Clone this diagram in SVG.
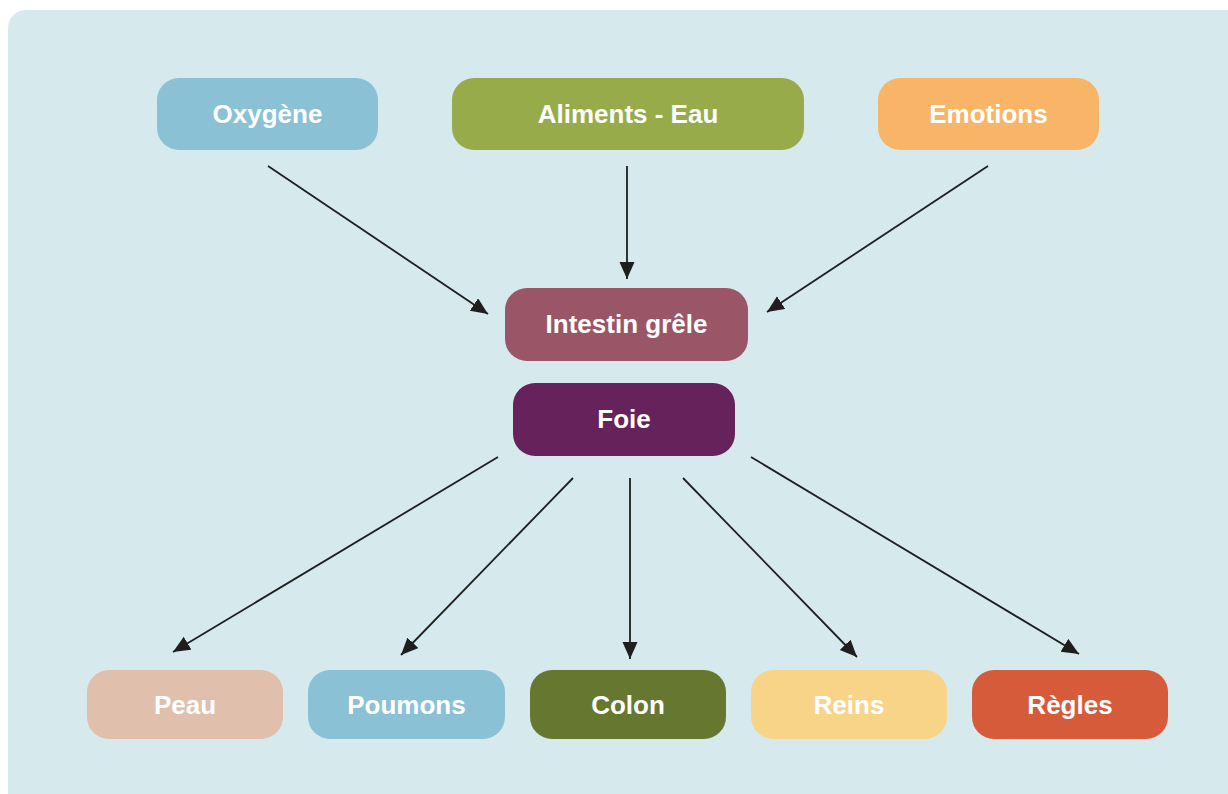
<svg xmlns="http://www.w3.org/2000/svg" width="1228" height="794" viewBox="0 0 1228 794">
<defs>
<style>
.lbl{font-family:"Liberation Sans",Arial,sans-serif;font-weight:bold;font-size:26px;fill:#ffffff;text-anchor:middle}
.edge{stroke:#1f1d1e;stroke-width:1.8;fill:none;marker-end:url(#ah)}
</style>
<marker id="ah" markerUnits="userSpaceOnUse" markerWidth="18" markerHeight="16" refX="17" refY="7.5" orient="auto">
<path d="M0,0 L17,7.5 L0,15 z" fill="#1f1d1e"/>
</marker>
</defs>
<rect width="1228" height="794" fill="#ffffff"/>
<rect x="8" y="10" width="1240" height="810" rx="18" fill="#d6eaee"/>
<g id="connectors">
<line class="edge" x1="268" y1="166" x2="488" y2="314"/>
<line class="edge" x1="627" y1="166" x2="627" y2="279"/>
<line class="edge" x1="988" y1="166" x2="767" y2="312"/>
<line class="edge" x1="498" y1="457" x2="173" y2="652"/>
<line class="edge" x1="573" y1="478" x2="401" y2="655"/>
<line class="edge" x1="630" y1="478" x2="630" y2="659"/>
<line class="edge" x1="683" y1="478" x2="857" y2="657"/>
<line class="edge" x1="751" y1="457" x2="1079" y2="654"/>
</g>
<g id="oxygene"><rect x="157" y="78" width="221" height="72" rx="22" fill="#8bc1d5"/><text class="lbl" x="267.5" y="123">Oxygène</text></g>
<g id="aliments"><rect x="452" y="78" width="352" height="72" rx="22" fill="#98ab4a"/><text class="lbl" x="628" y="123">Aliments - Eau</text></g>
<g id="emotions"><rect x="878" y="78" width="221" height="72" rx="22" fill="#f8b567"/><text class="lbl" x="988.5" y="123">Emotions</text></g>
<g id="intestin"><rect x="505" y="288" width="243" height="73" rx="22" fill="#9a5567"/><text class="lbl" x="626.5" y="333">Intestin grêle</text></g>
<g id="foie"><rect x="513" y="383" width="222" height="73" rx="22" fill="#66225a"/><text class="lbl" x="624" y="428">Foie</text></g>
<g id="peau"><rect x="87" y="670" width="196" height="69" rx="22" fill="#e1bfad"/><text class="lbl" x="185" y="714">Peau</text></g>
<g id="poumons"><rect x="308" y="670" width="197" height="69" rx="22" fill="#8bc1d5"/><text class="lbl" x="406.5" y="714">Poumons</text></g>
<g id="colon"><rect x="530" y="670" width="196" height="69" rx="22" fill="#667830"/><text class="lbl" x="628" y="714">Colon</text></g>
<g id="reins"><rect x="751" y="670" width="196" height="69" rx="22" fill="#f8d488"/><text class="lbl" x="849" y="714">Reins</text></g>
<g id="regles"><rect x="972" y="670" width="196" height="69" rx="22" fill="#d65b3a"/><text class="lbl" x="1070" y="714">Règles</text></g>
</svg>
